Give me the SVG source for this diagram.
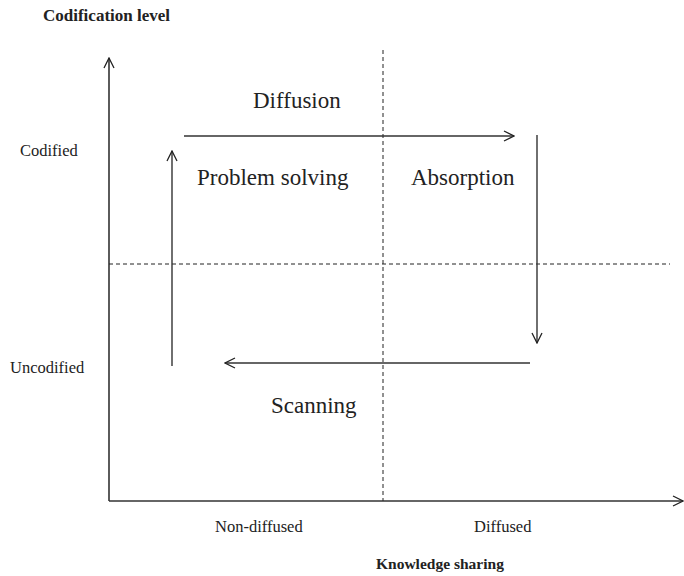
<svg xmlns="http://www.w3.org/2000/svg" width="684" height="576" viewBox="0 0 684 576">
<defs>
<marker id="ah" viewBox="0 0 12 12" refX="11" refY="6" markerWidth="12" markerHeight="12" markerUnits="userSpaceOnUse" orient="auto">
<path d="M1,1 L11,6 L1,11" fill="none" stroke="#222" stroke-width="1.3"/>
</marker>
<style>
.ax{stroke:#333;stroke-width:1.6;fill:none}
.ar{stroke:#333;stroke-width:1.4;fill:none}
.ds{stroke:#222;stroke-width:1;stroke-dasharray:4,3;fill:none}
text{font-family:"Liberation Serif","Times New Roman",serif;fill:#222}
.b{font-weight:bold;font-size:16.5px}
.s{font-size:16.5px}
.l{font-size:23px}
</style>
</defs>
<rect width="684" height="576" fill="#fff"/>
<g id="connectors">
<line class="ax" x1="109" y1="501" x2="109" y2="58" marker-end="url(#ah)"/>
<line class="ax" x1="109" y1="501" x2="683" y2="501" marker-end="url(#ah)"/>
<line class="ds" x1="383" y1="50" x2="383" y2="501"/>
<line class="ds" x1="109" y1="264" x2="670" y2="264"/>
<line class="ar" x1="172" y1="366" x2="172" y2="151" marker-end="url(#ah)"/>
<line class="ar" x1="184" y1="136" x2="514" y2="136" marker-end="url(#ah)"/>
<line class="ar" x1="537" y1="135" x2="537" y2="343" marker-end="url(#ah)"/>
<line class="ar" x1="530" y1="363" x2="225" y2="363" marker-end="url(#ah)"/>
</g>
<g id="axis-labels">
<text class="b" x="43" y="21" style="font-size:17px">Codification level</text>
<text class="s" x="20" y="156">Codified</text>
<text class="s" x="10" y="373">Uncodified</text>
<text class="s" x="215" y="532">Non-diffused</text>
<text class="s" x="474" y="532">Diffused</text>
<text class="b" x="376" y="569" style="font-size:15.5px">Knowledge sharing</text>
</g>
<g id="diffusion"><text class="l" x="253" y="108">Diffusion</text></g>
<g id="problem-solving"><text class="l" x="197" y="185">Problem solving</text></g>
<g id="absorption"><text class="l" x="411" y="185">Absorption</text></g>
<g id="scanning"><text class="l" x="271" y="413">Scanning</text></g>
</svg>
